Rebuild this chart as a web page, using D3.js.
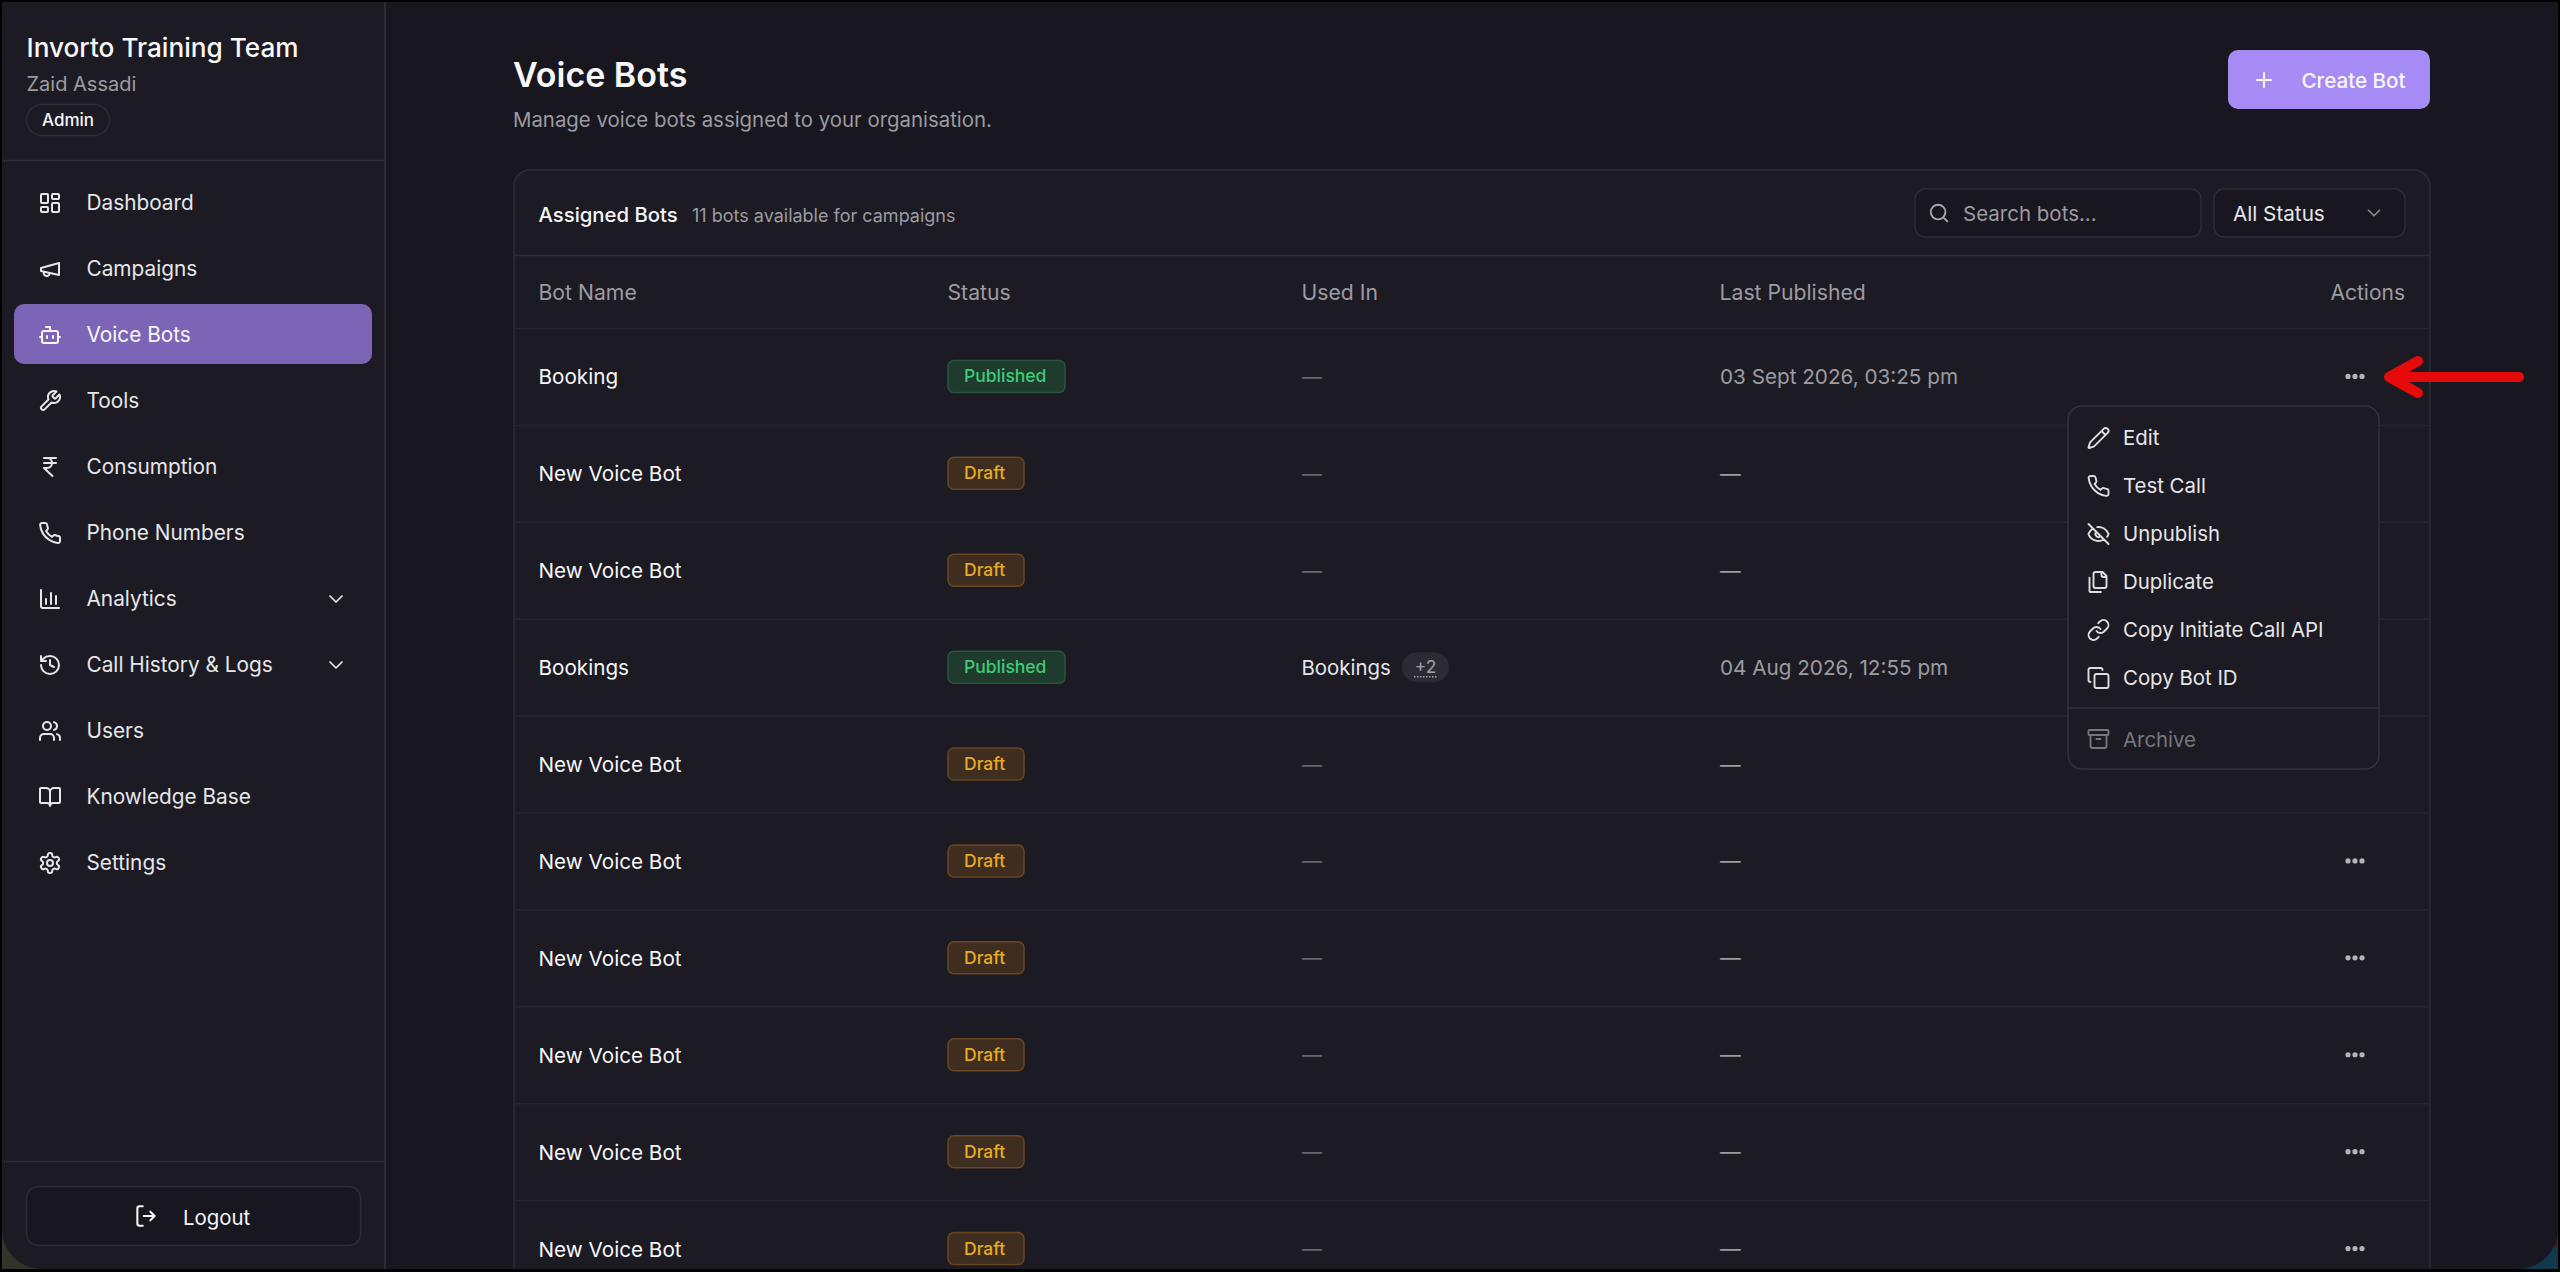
<!DOCTYPE html>
<html><head><meta charset="utf-8">
<script src="https://cdn.jsdelivr.net/npm/d3@7"></script>
<style>html,body{margin:0;padding:0;background:#000;overflow:hidden}svg{display:block}text{font-family:Inter,"Noto Sans",sans-serif;dominant-baseline:central}</style>
</head><body><div id="app"></div>
<script>
const navLabels=["Dashboard","Campaigns","Voice Bots","Tools","Consumption","Phone Numbers","Analytics","Call History & Logs","Users","Knowledge Base","Settings"];
const navIcons=["dash","mega","bot","wrench","rupee","phone","chart","history","users","book","gear"];
const navExpandable=["Analytics","Call History & Logs"];
const activeNav="Voice Bots";
const columns=["Bot Name","Status","Used In","Last Published"];
const botNames=["Booking","New Voice Bot","New Voice Bot","Bookings","New Voice Bot","New Voice Bot","New Voice Bot","New Voice Bot","New Voice Bot","New Voice Bot"];
const botStatus=["Published","Draft","Draft","Published","Draft","Draft","Draft","Draft","Draft","Draft"];
const botUsedIn=["—","—","—","Bookings","—","—","—","—","—","—"];
const botPublished=["03 Sept 2026, 03:25 pm","—","—","04 Aug 2026, 12:55 pm","—","—","—","—","—","—"];
const menuLabels=["Edit","Test Call","Unpublish","Duplicate","Copy Initiate Call API","Copy Bot ID"];
const menuIcons=["pencil","phone","eyeoff","files","link","copy"];

const rr=(x,y,w,h,r)=>`M${x+r} ${y}h${w-2*r}a${r} ${r} 0 0 1 ${r} ${r}v${h-2*r}a${r} ${r} 0 0 1 -${r} ${r}h-${w-2*r}a${r} ${r} 0 0 1 -${r} -${r}v-${h-2*r}a${r} ${r} 0 0 1 ${r} -${r}z`;
const ci=(x,y,r)=>`M${x-r} ${y}a${r} ${r} 0 1 0 ${2*r} 0a${r} ${r} 0 1 0 -${2*r} 0z`;
const ICON={
dash:rr(3,3,7,9,1)+rr(14,3,7,5,1)+rr(14,12,7,9,1)+rr(3,16,7,5,1),
mega:"m3 11 18-5v12L3 14v-3zM11.6 16.8a3 3 0 1 1-5.8-1.6",
bot:"M12 8V4H8"+rr(4,8,16,12,2)+"M2 14h2M20 14h2M15 13v2M9 13v2",
wrench:"M14.7 6.3a1 1 0 0 0 0 1.4l1.6 1.6a1 1 0 0 0 1.4 0l3.77-3.77a6 6 0 0 1-7.94 7.94l-6.91 6.91a2.12 2.12 0 0 1-3-3l6.91-6.91a6 6 0 0 1 7.94-7.94l-3.76 3.76z",
rupee:"M6 3h12M6 8h12m-12 5 8.5 8M6 13h3M9 13c6.667 0 6.667-10 0-10",
phone:"M22 16.92v3a2 2 0 0 1-2.18 2 19.79 19.79 0 0 1-8.63-3.07 19.5 19.5 0 0 1-6-6 19.79 19.79 0 0 1-3.07-8.67A2 2 0 0 1 4.11 2h3a2 2 0 0 1 2 1.72 12.84 12.84 0 0 0 .7 2.81 2 2 0 0 1-.45 2.11L8.09 9.91a16 16 0 0 0 6 6l1.27-1.27a2 2 0 0 1 2.11-.45 12.84 12.84 0 0 0 2.81.7A2 2 0 0 1 22 16.92z",
chart:"M3 3v16a2 2 0 0 0 2 2h16M8 17v-5M13 17V6M18 17V9",
history:"M3 12a9 9 0 1 0 9-9 9.75 9.75 0 0 0-6.74 2.74L3 8M3 3v5h5M12 7v5l4 2",
users:"M16 21v-2a4 4 0 0 0-4-4H6a4 4 0 0 0-4 4v2"+ci(9,7,4)+"M22 21v-2a4 4 0 0 0-3-3.87M16 3.13a4 4 0 0 1 0 7.75",
book:"M12 7v14M3 18a1 1 0 0 1-1-1V4a1 1 0 0 1 1-1h5a4 4 0 0 1 4 4 4 4 0 0 1 4-4h5a1 1 0 0 1 1 1v13a1 1 0 0 1-1 1h-6a3 3 0 0 0-3 3 3 3 0 0 0-3-3z",
gear:"M12.22 2h-.44a2 2 0 0 0-2 2v.18a2 2 0 0 1-1 1.73l-.43.25a2 2 0 0 1-2 0l-.15-.08a2 2 0 0 0-2.73.73l-.22.38a2 2 0 0 0 .73 2.73l.15.1a2 2 0 0 1 1 1.72v.51a2 2 0 0 1-1 1.74l-.15.09a2 2 0 0 0-.73 2.73l.22.38a2 2 0 0 0 2.73.73l.15-.08a2 2 0 0 1 2 0l.43.25a2 2 0 0 1 1 1.73V20a2 2 0 0 0 2 2h.44a2 2 0 0 0 2-2v-.18a2 2 0 0 1 1-1.73l.43-.25a2 2 0 0 1 2 0l.15.08a2 2 0 0 0 2.73-.73l.22-.39a2 2 0 0 0-.73-2.73l-.15-.08a2 2 0 0 1-1-1.74v-.5a2 2 0 0 1 1-1.74l.15-.09a2 2 0 0 0 .73-2.73l-.22-.38a2 2 0 0 0-2.73-.73l-.15.08a2 2 0 0 1-2 0l-.43-.25a2 2 0 0 1-1-1.73V4a2 2 0 0 0-2-2z"+ci(12,12,3),
logout:"M9 3H6a2 2 0 0 0-2 2v14a2 2 0 0 0 2 2h3M16 8l4 4-4 4M20 12H10",
pencil:"M21.174 6.812a1 1 0 0 0-3.986-3.987L3.842 16.174a2 2 0 0 0-.5.83l-1.321 4.352a.5.5 0 0 0 .623.622l4.353-1.32a2 2 0 0 0 .83-.497zM15 5l4 4",
eyeoff:"M10.733 5.076a10.744 10.744 0 0 1 11.205 6.575 1 1 0 0 1 0 .696 10.747 10.747 0 0 1-1.444 2.49M14.084 14.158a3 3 0 0 1-4.242-4.242M17.479 17.499a10.75 10.75 0 0 1-15.417-5.151 1 1 0 0 1 0-.696 10.75 10.75 0 0 1 4.446-5.143M2 2l20 20",
files:"M20 7h-3a2 2 0 0 1-2-2V2M9 18a2 2 0 0 1-2-2V4a2 2 0 0 1 2-2h7l4 4v10a2 2 0 0 1-2 2ZM3 7.6v12.8A1.6 1.6 0 0 0 4.6 22h9.8",
link:"M10 13a5 5 0 0 0 7.54.54l3-3a5 5 0 0 0-7.07-7.07l-1.72 1.71M14 11a5 5 0 0 0-7.54-.54l-3 3a5 5 0 0 0 7.07 7.07l1.71-1.71",
copy:rr(8,8,14,14,2)+"M4 16c-1.1 0-2-.9-2-2V4c0-1.1.9-2 2-2h10c1.1 0 2 .9 2 2",
archive:rr(2,3,20,5,1)+"M4 8v11a2 2 0 0 0 2 2h12a2 2 0 0 0 2-2V8M10 12h4",
search:ci(11,11,8)+"M21 21l-4.3-4.3",
chev:"m6 9 6 6 6-6",
plus:"M5 12h14M12 5v14"
};
const C={side:"#1c1b24",main:"#18171f",line:"#2d2c37",rowLine:"#26252f",text:"#e6e6e9",white:"#f7f7f8",muted:"#9c9ba1"};

const svg=d3.select("#app").append("svg").attr("width",2560).attr("height",1272).attr("viewBox","0 0 2560 1272");
const R=(g,x,y,w,h,r,fill,stroke)=>g.append("rect").attr("x",x).attr("y",y).attr("width",w).attr("height",h).attr("rx",r).attr("fill",fill).attr("stroke",stroke||"none").attr("stroke-width",stroke?1.5:0);
const T=(g,s,x,y,size,fill,weight,anchor)=>g.append("text").attr("x",x).attr("y",y).attr("font-size",size).attr("fill",fill).attr("font-weight",weight||400).attr("text-anchor",anchor||"start").text(s);
const L=(g,x1,y1,x2,y2,c,w)=>g.append("line").attr("x1",x1).attr("y1",y1).attr("x2",x2).attr("y2",y2).attr("stroke",c).attr("stroke-width",w||1.5);
const I=(g,name,cx,cy,size,c,sw)=>g.append("path").attr("d",ICON[name]).attr("transform",`translate(${cx-size/2},${cy-size/2}) scale(${size/24})`).attr("fill","none").attr("stroke",c).attr("stroke-width",sw||2).attr("stroke-linecap","round").attr("stroke-linejoin","round");

// window corners
svg.append("rect").attr("x",2).attr("y",1225).attr("width",44).attr("height",44).attr("fill","#33332a");
svg.append("rect").attr("x",2514).attr("y",1225).attr("width",44).attr("height",22).attr("fill","#3a1a2c");
svg.append("rect").attr("x",2514).attr("y",1247).attr("width",44).attr("height",22).attr("fill","#12384c");
const winPath="M2 2H2558V1229a40 40 0 0 1 -40 40H42a40 40 0 0 1 -40 -40z";
svg.append("defs").append("clipPath").attr("id","win").append("path").attr("d",winPath);
const win=svg.append("g").attr("clip-path","url(#win)");
win.append("rect").attr("x",0).attr("y",0).attr("width",2560).attr("height",1272).attr("fill",C.main);

// sidebar
const side=win.append("g");
side.append("rect").attr("x",0).attr("y",0).attr("width",385).attr("height",1272).attr("fill",C.side);
L(side,385,0,385,1272,C.line,2);
L(side,0,160.5,385,160.5,C.line,1.5);
L(side,0,1161.5,385,1161.5,C.line,1.5);
T(side,"Invorto Training Team",26.5,47.5,26.2,C.white,500);
T(side,"Zaid Assadi",26.5,83.5,20,C.muted,400);
R(side,26.5,104.5,83,31,15.5,"none",C.line);
T(side,"Admin",68,119.5,17,C.white,500,"middle");

const navY=d3.scalePoint().domain(navLabels).range([203,863]);
R(side,14,304,358,60,10,"#7c65b6");
const nav=side.selectAll("g.nav").data(navLabels).join("g").attr("class","nav");
nav.each(function(d,i){
  const g=d3.select(this),y=navY(d);
  I(g,navIcons[i],50,y,24,d===activeNav?C.white:C.text,2);
  T(g,d,86.5,y-.5,20.8,d===activeNav?C.white:C.text,400);
  if(navExpandable.includes(d)) I(g,"chev",336,y,24,C.text,1.7);
});
R(side,26.5,1186.5,334,59,12,C.main,C.line);
I(side,"logout",146,1216,26,C.white,1.9);
T(side,"Logout",183,1217,20.4,C.white,400);

// page head
T(win,"Voice Bots",513,74,34,C.white,600);
T(win,"Manage voice bots assigned to your organisation.",513,119,20.4,C.muted,400);
R(win,2228,50,202,59,10,"#a78bf4");
I(win,"plus",2264,80,24,C.white,2);
T(win,"Create Bot",2301.5,80,20.6,C.white,500);

// card
const cardPath="M514 1290V186a16 16 0 0 1 16 -16H2414a16 16 0 0 1 16 16V1290z";
win.append("path").attr("d",cardPath).attr("fill",C.side).attr("stroke",C.line).attr("stroke-width",1.5);
T(win,"Assigned Bots",538.5,214.5,20.3,C.white,500);
T(win,"11 bots available for campaigns",692,215,18,C.muted,400);
R(win,1915,189,286,48,10,C.main,C.line);
I(win,"search",1939,213,22,"#a8a7ad",2);
T(win,"Search bots...",1963,213.5,20.5,C.muted,400);
R(win,2214,189,191,48,10,C.main,C.line);
T(win,"All Status",2233,213.5,20.7,C.text,400);
I(win,"chev",2374,213,22,"#86858c",1.9);
L(win,514,255.5,2430,255.5,C.line,1.5);
L(win,514,328.5,2430,328.5,C.rowLine,1.5);

const colX=d3.scaleOrdinal().domain(columns).range([538.5,947.5,1301.5,1719.5]);
win.selectAll("text.col").data(columns).join("text").attr("class","col")
  .attr("x",d=>colX(d)).attr("y",292).attr("font-size",21.2).attr("fill",C.muted).text(d=>d);
T(win,"Actions",2405,292,21,C.muted,400,"end");

const rowY=d3.scaleBand().domain(d3.range(botNames.length)).range([328,1297]);
const badge={Published:{w:117,fill:"#1e3b2d",stroke:"#24573b",text:"#3ecb74"},Draft:{w:76,fill:"#3f2d20",stroke:"#6a4522",text:"#e7ab22"}};
const rows=win.selectAll("g.row").data(botNames).join("g").attr("class","row");
rows.each(function(d,i){
  const g=d3.select(this),top=rowY(i),y=top+rowY.bandwidth()/2;
  L(g,514,top+rowY.bandwidth()+.5,2430,top+rowY.bandwidth()+.5,C.rowLine,1.5);
  T(g,d,538.5,y+.5,20.7,C.white,400);
  const b=badge[botStatus[i]];
  R(g,948,y-16,b.w,32,6,b.fill,b.stroke);
  T(g,botStatus[i],948+16,y-.5,17.5,b.text,500);
  if(botUsedIn[i]==="—") T(g,"—",1302,y+.5,20,"#66656c",400);
  else{
    T(g,botUsedIn[i],1301.5,y,20.4,C.text,400);
    R(g,1402,y-15,47,30,15,"#2c2b34");
    T(g,"+2",1425.5,y-1,17.5,"#a3a2a8",400,"middle");
    L(g,1414,y+9.5,1437,y+9.5,"#a3a2a8",1.5).attr("stroke-dasharray","1.5 1.5");
  }
  T(g,botPublished[i],1720,y,20.7,"#9c9ba1",400);
  [-7,0,7].forEach(dx=>g.append("circle").attr("cx",2355+dx).attr("cy",y).attr("r",2.6).attr("fill","#b4b3b8"));
});

// dropdown menu
const menu=win.append("g");
R(menu,2068,406,311,363,14,C.side,"#33323c");
const menuY=d3.scalePoint().domain(menuLabels).range([438,678]);
menuLabels.forEach((d,i)=>{
  const y=menuY(d);
  I(menu,menuIcons[i],2098.5,y,24,"#dededf",1.9);
  T(menu,d,2123,y-.7,20.4,C.text,400);
});
L(menu,2068,708,2379,708,"#33323c",1.5);
I(menu,"archive",2098.5,739,24,"#77767c",1.9);
T(menu,"Archive",2123,739,20.4,"#77767c",400);

// red annotation arrow
win.append("path").attr("d","M2519 377H2390M2418 361L2389 377L2418 393").attr("fill","none").attr("stroke","#e70a0a").attr("stroke-width",10).attr("stroke-linecap","round").attr("stroke-linejoin","round");
</script></body></html>
